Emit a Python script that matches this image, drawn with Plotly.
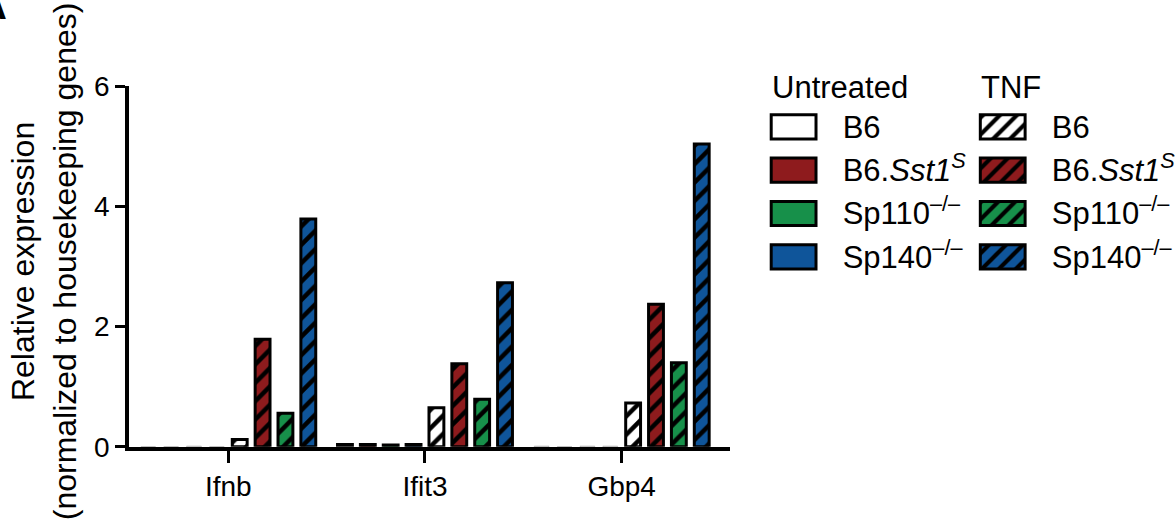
import plotly.graph_objects as go

# ---- data ----
genes = ["Ifnb", "Ifit3", "Gbp4"]
strains = ["B6", "B6.<i>Sst1<sup>S</sup></i>", "Sp110<sup>–/–</sup>", "Sp140<sup>–/–</sup>"]
colors = ["#FFFFFF", "#8E1B1D", "#17904A", "#0F559A"]

untreated_b6 = [0.0, 0.04, 0.01]
untreated_sst1 = [0.0, 0.04, 0.0]
untreated_sp110 = [0.01, 0.03, 0.01]
untreated_sp140 = [0.0, 0.04, 0.01]

tnf_b6 = [0.12, 0.65, 0.73]
tnf_sst1 = [1.79, 1.38, 2.37]
tnf_sp110 = [0.56, 0.79, 1.40]
tnf_sp140 = [3.79, 2.73, 5.04]

y_ticks = [0, 2, 4, 6]
swatch_len = 1

untreated = [untreated_b6, untreated_sst1, untreated_sp110, untreated_sp140]
tnf = [tnf_b6, tnf_sst1, tnf_sp110, tnf_sp140]

W, H = 1175, 523
FONT = "Liberation Sans, Arial, Helvetica, sans-serif"


def px(x):
    return x / W


def py(y):
    return 1 - y / H


def outline(vals):
    # near-zero bars show only as faint grey dashes on the axis in the original
    widths = [3 if v >= 0.02 else 1 for v in vals]
    cols = ["black" if v >= 0.02 else "rgba(0,0,0,0.25)" for v in vals]
    return dict(color=cols, width=widths)


def fills(col, vals):
    return [col if v >= 0.02 else "rgba(255,255,255,0)" for v in vals]


fig = go.Figure()

for name, col, vals in zip(strains, colors, untreated):
    fig.add_trace(go.Bar(
        x=genes, y=vals, name=name, showlegend=False, hoverinfo="skip",
        marker=dict(color=fills(col, vals), line=outline(vals)),
    ))
for name, col, vals in zip(strains, colors, tnf):
    fig.add_trace(go.Bar(
        x=genes, y=vals, name=name + " TNF", showlegend=False, hoverinfo="skip",
        marker=dict(color=col, line=outline(vals),
                    pattern=dict(shape="/", fgcolor="black", bgcolor=col,
                                 size=13, solidity=0.35, fillmode="replace")),
    ))

# legend swatches (custom two-column legend)
for name, col in zip(strains, colors):
    fig.add_trace(go.Bar(
        x=[swatch_len], y=[name], orientation="h", xaxis="x2", yaxis="y2",
        width=0.56, offsetgroup="u", showlegend=False, hoverinfo="skip",
        marker=dict(color=col, line=dict(color="black", width=3)),
    ))
    fig.add_trace(go.Bar(
        x=[swatch_len], y=[name], orientation="h", xaxis="x3", yaxis="y3",
        width=0.56, offsetgroup="t", showlegend=False, hoverinfo="skip",
        marker=dict(color=col, line=dict(color="black", width=3),
                    pattern=dict(shape="/", fgcolor="black", bgcolor=col,
                                 size=12, solidity=0.35, fillmode="replace")),
    ))

axis_font = dict(family=FONT, size=28, color="black")
leg_font = dict(family=FONT, size=31, color="black")

legend_y = dict(
    type="category", categoryorder="array", categoryarray=strains,
    range=[3.5, -0.5], domain=[py(280), py(96)], side="right",
    showline=False, showgrid=False, zeroline=False,
    ticks="outside", ticklen=15, tickcolor="rgba(0,0,0,0)",
    tickfont=leg_font,
)

fig.update_layout(
    width=W, height=H,
    margin=dict(l=0, r=0, t=0, b=0),
    paper_bgcolor="white", plot_bgcolor="white",
    barmode="group", bargap=0.07, bargroupgap=0.35,
    hovermode=False,
    font=dict(family=FONT, color="black"),
    xaxis=dict(
        domain=[px(129.5), px(733)], range=[-0.505, 2.55],
        type="category", categoryorder="array", categoryarray=genes,
        showline=True, linecolor="black", linewidth=3.5,
        ticks="outside", ticklen=12, tickwidth=3, tickcolor="black",
        showgrid=False, zeroline=False, tickfont=axis_font,
    ),
    yaxis=dict(
        domain=[py(459), py(75.7)], range=[0, 6],
        tickvals=y_ticks, ticktext=[str(v) for v in y_ticks],
        showline=True, linecolor="black", linewidth=3.5,
        ticks="outside", ticklen=10, tickwidth=3, tickcolor="black",
        showgrid=False, zeroline=False, tickfont=axis_font,
    ),
    xaxis2=dict(domain=[px(770), px(824)], range=[-0.1, 1.1], visible=False,
                anchor="y2"),
    yaxis2=dict(anchor="x2", **legend_y),
    xaxis3=dict(domain=[px(980), px(1034)], range=[-0.1, 1.1], visible=False,
                anchor="y3"),
    yaxis3=dict(anchor="x3", **legend_y),
    annotations=[
        dict(text="Relative expression<br>(normalized to housekeeping genes)",
             textangle=-90, xref="paper", yref="paper", x=px(45), y=py(262),
             xanchor="center", yanchor="middle", showarrow=False,
             font=dict(family=FONT, size=32, color="black")),
        dict(text="Untreated", xref="paper", yref="paper", x=px(773), y=py(77),
             xanchor="left", yanchor="middle", showarrow=False, font=leg_font),
        dict(text="TNF", xref="paper", yref="paper", x=px(983), y=py(77),
             xanchor="left", yanchor="middle", showarrow=False, font=leg_font),
        dict(text="<b>A</b>", xref="paper", yref="paper", x=px(9), y=py(15),
             xanchor="right", yanchor="bottom", showarrow=False,
             font=dict(family=FONT, size=40, color="black")),
    ],
)

fig.write_html("out.html")
